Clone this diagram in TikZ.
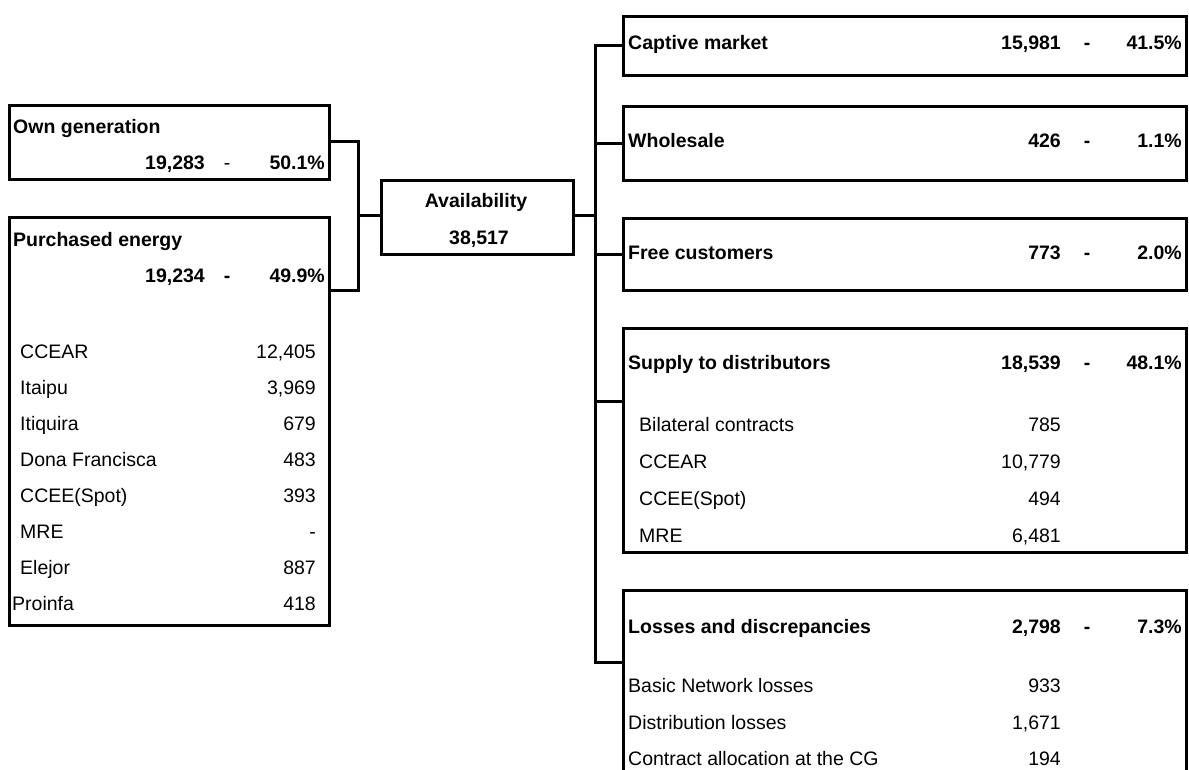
\documentclass[tikz,border=0pt]{standalone}
\usepackage{fontspec}
\setmainfont{Liberation Sans}
\usetikzlibrary{calc, positioning}

\begin{document}
\begin{tikzpicture}[x=1pt, y=-1pt,
        font=\fontsize{19.5}{22}\selectfont,
        box/.style={rectangle, draw, line width=3pt, inner sep=0pt, anchor=north west},
        head/.style={anchor=base west, inner sep=0pt, font=\fontsize{19.5}{22}\selectfont\bfseries},
        item/.style={anchor=base west, inner sep=0pt},
        num/.style={anchor=base east, inner sep=0pt},
        bnum/.style={num, font=\fontsize{19.5}{22}\selectfont\bfseries},
        dashsym/.style={anchor=base, inner sep=0pt},
        bdash/.style={dashsym, font=\fontsize{19.5}{22}\selectfont\bfseries},
        line/.style={draw, line width=3pt}]

        \useasboundingbox (0,0) rectangle (1189,770);
        \clip (0,0) rectangle (1189,770);

        % sources
        \node [box, minimum width=320, minimum height=74] (own) at (8,104) {};
        \node [box, minimum width=320, minimum height=408] (purch) at (8,216) {};
        \node [box, minimum width=192, minimum height=74] (avail) at (380,179) {};

        \node [head] (ownT) at (13,134) {Own generation};
        \node [bnum] (ownV) at (205,170) {19,283};
        \node [dashsym] (ownD) at (227,170) {-};
        \node [bnum] (ownP) at (325,170) {50.1\%};

        \node [head] (purchT) at (13,247) {Purchased energy};
        \node [bnum] (purchV) at (205,282) {19,234};
        \node [bdash] (purchD) at (227,282) {-};
        \node [bnum] (purchP) at (325,282) {49.9\%};

        \foreach \lbl/\val [count=\i] in {CCEAR/{12,405}, Itaipu/{3,969}, Itiquira/679,
                Dona Francisca/483, CCEE(Spot)/393, MRE/-, Elejor/887} {
            \node [item] (pl\i) at (20,322+36*\i) {\lbl};
            \node [num] (pv\i) at (316,322+36*\i) {\val};
        }
        \node [item] (pl8) at (12,610) {Proinfa};
        \node [num] (pv8) at (316,610) {418};

        \node [head, anchor=base] (availT) at (476,208) {Availability};
        \node [bnum, anchor=base] (availV) at (479,244) {38,517};

        % uses
        \node [box, minimum width=563, minimum height=59] (captive) at (622,15) {};
        \node [box, minimum width=563, minimum height=74] (whole) at (622,105) {};
        \node [box, minimum width=563, minimum height=72] (free) at (622,217) {};
        \node [box, minimum width=563, minimum height=224] (supply) at (622,327) {};
        \node [box, minimum width=563, minimum height=240] (loss) at (622,589) {};

        \node [head] (captiveT) at (628,50) {Captive market};
        \node [bnum] (captiveV) at (1061,50) {15,981};
        \node [bdash] (captiveD) at (1087,50) {-};
        \node [bnum] (captiveP) at (1182,50) {41.5\%};

        \node [head] (wholeT) at (628,148) {Wholesale};
        \node [bnum] (wholeV) at (1061,148) {426};
        \node [bdash] (wholeD) at (1087,148) {-};
        \node [bnum] (wholeP) at (1182,148) {1.1\%};

        \node [head] (freeT) at (628,259) {Free customers};
        \node [bnum] (freeV) at (1061,259) {773};
        \node [bdash] (freeD) at (1087,259) {-};
        \node [bnum] (freeP) at (1182,259) {2.0\%};

        \node [head] (supplyT) at (628,369) {Supply to distributors};
        \node [bnum] (supplyV) at (1061,369) {18,539};
        \node [bdash] (supplyD) at (1087,369) {-};
        \node [bnum] (supplyP) at (1182,369) {48.1\%};

        \foreach \lbl/\val [count=\i] in {Bilateral contracts/785, CCEAR/{10,779},
                CCEE(Spot)/494, MRE/{6,481}} {
            \node [item] (sl\i) at (639,394+37*\i) {\lbl};
            \node [num] (sv\i) at (1061,394+37*\i) {\val};
        }

        \node [head] (lossT) at (628,633) {Losses and discrepancies};
        \node [bnum] (lossV) at (1061,633) {2,798};
        \node [bdash] (lossD) at (1087,633) {-};
        \node [bnum] (lossP) at (1182,633) {7.3\%};

        \foreach \lbl/\val [count=\i] in {Basic Network losses/933,
                Distribution losses/{1,671}, Contract allocation at the CG/194} {
            \node [item] (ll\i) at (628,656+36.5*\i) {\lbl};
            \node [num] (lv\i) at (1061,656+36.5*\i) {\val};
        }

        % connectors
        \coordinate (jl) at (358,216);
        \coordinate (jr) at (595,216);
        \coordinate (ownIn) at (328,142);
        \coordinate (purchIn) at (328,290);
        \coordinate (supplyIn) at ($(supply.north west)+(0,74)$);
        \coordinate (lossIn) at ($(loss.north west)+(0,73)$);

        \path [line] (ownIn) -| (jl) |- (purchIn);
        \path [line] (jl) -- (jl -| avail.west);
        \path [line] (jr -| avail.east) -- (jr);
        \path [line] (captive.west) -| (jr) |- (lossIn);
        \path [line] (jr) |- (whole.west);
        \path [line] (jr) |- (free.west);
        \path [line] (jr) |- (supplyIn);
\end{tikzpicture}
\end{document}
